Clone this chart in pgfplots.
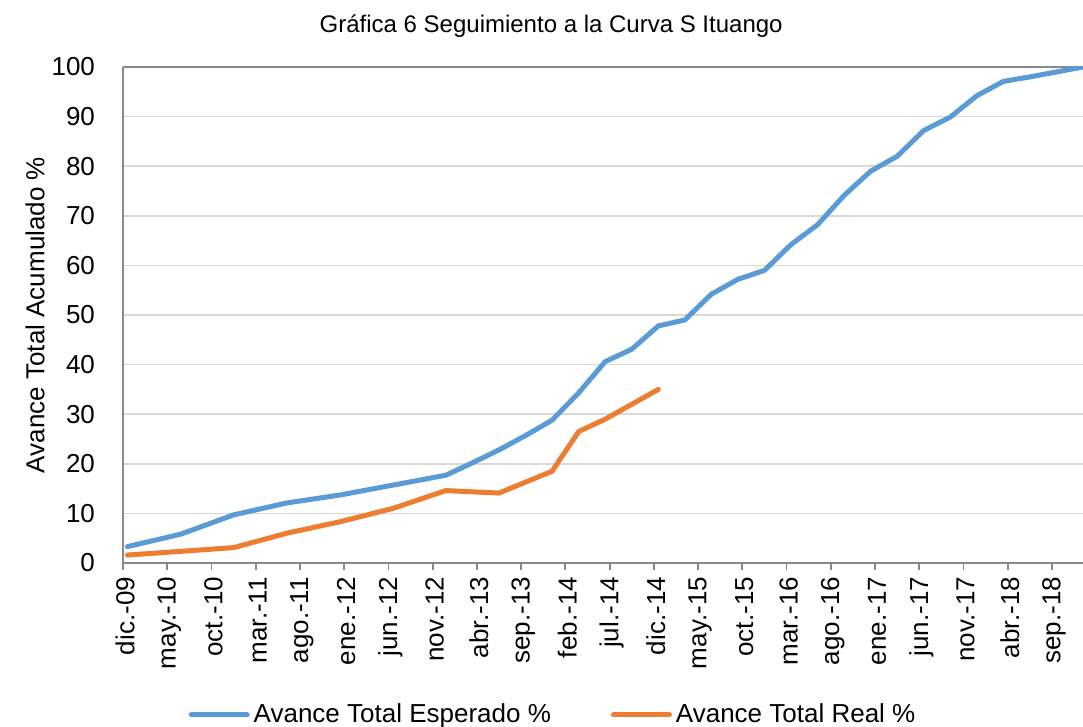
\documentclass[border=0pt]{standalone}
\usepackage{fontspec}
\setmainfont{Liberation Sans}
\usepackage{pgfplots}
\pgfplotsset{compat=1.18}

\definecolor{esperado}{HTML}{5B9BD5}
\definecolor{real}{HTML}{ED7D31}
\definecolor{gridgray}{HTML}{D9D9D9}
\definecolor{axisgray}{HTML}{898989}

\newcommand{\lblfont}{\fontsize{13}{15}\selectfont}

\begin{document}
\begin{tikzpicture}
\useasboundingbox (-61.5pt,-82pt) rectangle (480pt,281.5pt);
\begin{axis}[
    at={(0,0)}, anchor=south west,
    scale only axis,
    width=480pt, height=248pt,
    xmin=0, xmax=108.5,
    ymin=0, ymax=100,
    axis x line*=box, axis y line*=left,
    axis line style={axisgray, line width=0.9pt},
    xtick={0,5,...,105},
    xticklabels={dic.-09,may.-10,oct.-10,mar.-11,ago.-11,ene.-12,jun.-12,nov.-12,abr.-13,sep.-13,feb.-14,jul.-14,dic.-14,may.-15,oct.-15,mar.-16,ago.-16,ene.-17,jun.-17,nov.-17,abr.-18,sep.-18},
    xtick pos=left,
    ytick={0,10,...,100},
    ytick style={draw=none},
    xtick style={axisgray, line width=0.9pt},
    tick align=outside,
    major tick length=3.5pt,
    ymajorgrids,
    grid style={gridgray, line width=0.8pt},
    xticklabel style={rotate=90, anchor=east, font=\lblfont, yshift=-1pt},
    yticklabel style={font=\lblfont, xshift=-7pt},
    /pgf/number format/assume math mode=true,
    ylabel={Avance Total Acumulado \%},
    ylabel style={at={(axis description cs:-0.0917,0.5)}, anchor=center, font=\lblfont},
    title={Gráfica 6 Seguimiento a la Curva S Ituango},
    title style={at={(axis description cs:0.446,1)}, anchor=center, yshift=14.5pt, font=\fontsize{12}{14}\selectfont},
    legend style={at={(axis description cs:0.449,0)}, anchor=center, yshift=-76pt,
        draw=none, fill=none, legend columns=2, font=\lblfont,
        /tikz/every even column/.append style={column sep=28pt}},
    legend image code/.code={\draw[#1] (0pt,0pt) -- (28pt,0pt);},
]
\addplot[esperado, line width=2.5pt, line join=round, line cap=round] coordinates {
    (0.5,3.3) (6.5,5.8) (12.5,9.7) (18.5,12.1) (24.5,13.7) (30.5,15.7)
    (36.5,17.7) (39.5,20.2) (42.5,22.8) (45.5,25.7) (48.5,28.8) (51.5,34.3)
    (54.5,40.6) (57.5,43.1) (60.5,47.8) (63.5,49.0) (66.5,54.2) (69.5,57.2)
    (72.5,59.0) (75.5,64.2) (78.5,68.2) (81.5,74.1) (84.5,79.0) (87.5,82.0)
    (90.5,87.2) (93.5,89.9) (96.5,94.2) (99.5,97.1) (102.5,98.0) (105.5,99.0)
    (108.5,100)
};
\addlegendentry{Avance Total Esperado \%}
\addplot[real, line width=2.5pt, line join=round, line cap=round] coordinates {
    (0.5,1.6) (12.5,3.1) (18.5,6.0) (24.5,8.3) (30.5,11.0) (36.5,14.6)
    (42.5,14.1) (48.5,18.5) (51.5,26.5) (54.5,29.0) (57.5,32.0) (60.5,35.0)
};
\addlegendentry{Avance Total Real \%}
\end{axis}
\end{tikzpicture}
\end{document}
